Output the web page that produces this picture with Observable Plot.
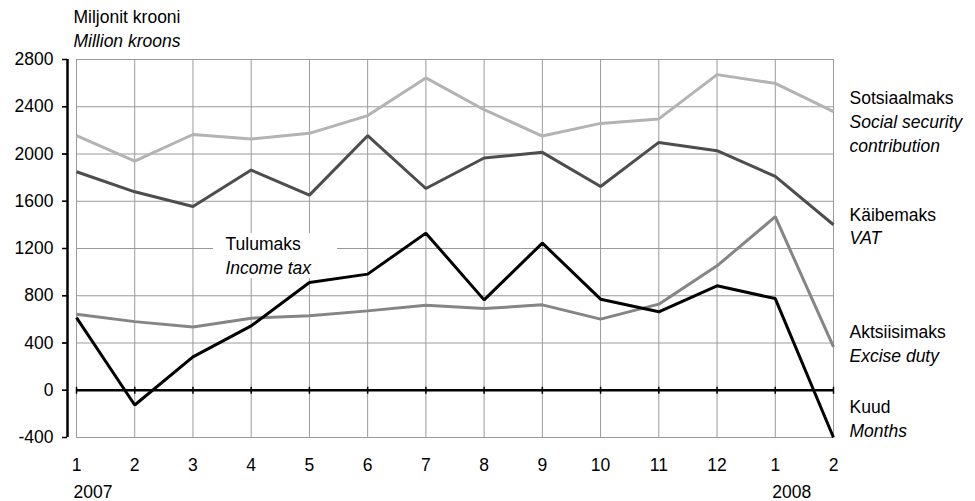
<!DOCTYPE html>
<html>
<head>
<meta charset="utf-8">
<script src="https://cdn.jsdelivr.net/npm/d3@7"></script>
<script src="https://cdn.jsdelivr.net/npm/@observablehq/plot@0.6"></script>
<style>
  body { margin: 0; background: #fff; }
  #chart svg { display: block; }
</style>
</head>
<body>
<div id="chart"></div>
<script>
// ---- data ----
const months = [1, 2, 3, 4, 5, 6, 7, 8, 9, 10, 11, 12, 13, 14];
const monthLabels = ["1", "2", "3", "4", "5", "6", "7", "8", "9", "10", "11", "12", "1", "2"];
const yearMonths = [1, 13];
const yearLabels = ["2007", "2008"];
const yTicks = [-400, 0, 400, 800, 1200, 1600, 2000, 2400, 2800];

const sotsiaalmaks = [2155, 1940, 2165, 2127, 2175, 2325, 2644, 2375, 2152, 2259, 2297, 2672, 2598, 2358];
const kaibemaks    = [1850, 1680, 1555, 1864, 1652, 2155, 1708, 1966, 2014, 1725, 2098, 2028, 1810, 1401];
const aktsiisimaks = [644, 581, 536, 610, 630, 672, 720, 692, 723, 602, 729, 1053, 1469, 367];
const tulumaks     = [615, -125, 282, 545, 912, 983, 1330, 765, 1246, 771, 664, 884, 776, -400];

const seriesNames = ["Sotsiaalmaks", "Käibemaks", "Aktsiisimaks", "Tulumaks"];
const seriesNamesEn = ["Social security", "VAT", "Excise duty", "Income tax"];
const seriesNamesEn2 = ["contribution"];
const unitLabels = ["Miljonit krooni", "Million kroons"];
const monthAxisLabels = ["Kuud", "Months"];

// ---- build tables ----
const toRows = (vals) => months.map((m, i) => ({m, v: vals[i]}));
const series = [
  {rows: toRows(sotsiaalmaks), color: "#b3b3b3"},
  {rows: toRows(kaibemaks), color: "#4d4d4d"},
  {rows: toRows(aktsiisimaks), color: "#858585"},
  {rows: toRows(tulumaks), color: "#000000"}
];

const FONT = "'Liberation Sans', Arial, Helvetica, sans-serif";

// frame-relative text helper
function label(txt, anchor, dx, dy, italic) {
  return Plot.text([txt], {
    text: d => d,
    frameAnchor: anchor,
    dx, dy,
    textAnchor: "start",
    lineAnchor: "middle",
    fill: "black",
    fontStyle: italic ? "italic" : "normal"
  });
}

// white box behind the Tulumaks label
function labelBox(index, scales, values, dimensions) {
  const {marginLeft, marginTop} = dimensions;
  const r = d3.create("svg:rect")
    .attr("x", marginLeft + 146)
    .attr("y", marginTop + 174)
    .attr("width", 124)
    .attr("height", 45)
    .attr("fill", "white");
  return r.node();
}

const plot = Plot.plot({
  width: 975,
  height: 501,
  marginLeft: 67,
  insetLeft: 9,
  marginRight: 142,
  marginTop: 59,
  marginBottom: 64,
  style: {fontFamily: FONT, fontSize: "17.5px", color: "black", background: "white"},
  x: {domain: [1, 14], axis: null},
  y: {
    domain: [-400, 2800],
    ticks: yTicks,
    tickSize: 5,
    tickPadding: 9,
    tickFormat: d => String(d),
    label: null
  },
  marks: [
    // grid
    Plot.ruleY(yTicks, {x1: 1, x2: 14, stroke: "#9a9a9a", strokeWidth: 1}),
    Plot.ruleX(months, {y1: -400, y2: 2800, stroke: "#9a9a9a", strokeWidth: 1}),
    // label background box
    labelBox,
    // zero line with month ticks
    Plot.ruleY([0], {x1: 1, x2: 14, stroke: "black", strokeWidth: 2.5}),
    Plot.ruleX(months, {y1: 0, y2: 0, insetTop: -3, insetBottom: -4, stroke: "black", strokeWidth: 1.5}),
    // series lines
    ...series.map(s => Plot.line(s.rows, {
      x: "m", y: "v", stroke: s.color, strokeWidth: 3,
      strokeLinejoin: "miter", strokeLinecap: "butt"
    })),
    // y axis line and ticks
    Plot.ruleX([1], {y1: -400, y2: 2800, dx: -9, stroke: "black", strokeWidth: 2.5}),
    Plot.ruleY(yTicks, {x1: 1, x2: 1, insetLeft: -14, insetRight: 9, stroke: "black", strokeWidth: 1.5}),
    // month labels
    Plot.text(months, {x: d => d, y: -400, dy: 28, text: (d, i) => monthLabels[i], lineAnchor: "middle", textAnchor: "middle", fill: "black"}),
    Plot.text(yearMonths, {x: d => d, y: -400, dy: 55, dx: -3, text: (d, i) => yearLabels[i], lineAnchor: "middle", textAnchor: "start", fill: "black"}),
    // unit labels
    label(unitLabels[0], "top-left", 6, -42, false),
    label(unitLabels[1], "top-left", 6, -18, true),
    // Tulumaks label
    label(seriesNames[3], "top-left", 158, 185, false),
    label(seriesNamesEn[3], "top-left", 158, 209, true),
    // right-side labels
    label(seriesNames[0], "top-right", 16, 39, false),
    label(seriesNamesEn[0], "top-right", 16, 63, true),
    label(seriesNamesEn2[0], "top-right", 16, 87, true),
    label(seriesNames[1], "top-right", 16, 156, false),
    label(seriesNamesEn[1], "top-right", 16, 179, true),
    label(seriesNames[2], "top-right", 16, 273, false),
    label(seriesNamesEn[2], "top-right", 16, 297, true),
    label(monthAxisLabels[0], "top-right", 16, 348, false),
    label(monthAxisLabels[1], "top-right", 16, 372, true)
  ]
});

document.getElementById("chart").appendChild(plot);
</script>
</body>
</html>
